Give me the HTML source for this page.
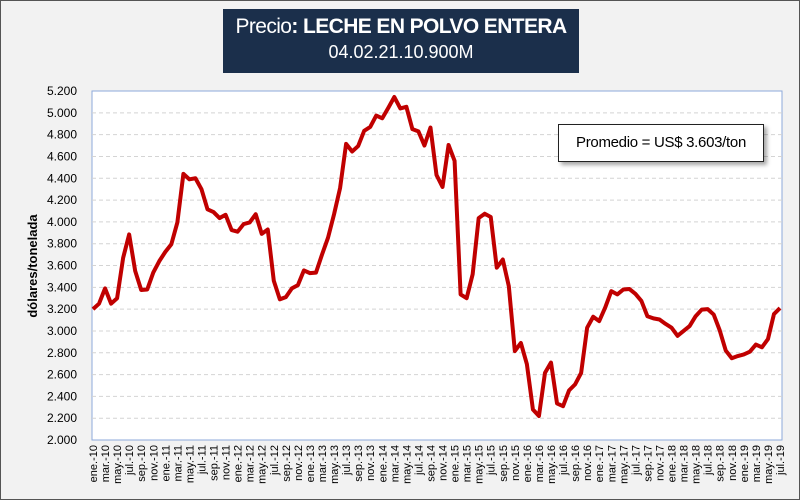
<!DOCTYPE html>
<html><head><meta charset="utf-8"><style>
body{margin:0;background:#fff}
#wrap{position:relative;width:798px;height:498px;background:#f2f2f2;border:1px solid #555;font-family:"Liberation Sans",sans-serif;overflow:hidden}
#title{position:absolute;left:222px;top:8px;width:356px;height:64px;background:#1b2f4b;color:#fff;text-align:center}
#t1{font-size:21px;margin-top:6px;letter-spacing:-0.6px}
#t2{font-size:18px;margin-top:3px}
#avg{position:absolute;left:557px;top:123px;width:204px;height:36px;background:#fff;border:1px solid #222;box-shadow:3px 3px 4px rgba(0,0,0,.35);font-size:15px;line-height:36px;text-align:center;letter-spacing:-0.3px}
svg{position:absolute;left:0;top:0}
</style></head><body>
<div id="wrap">
<div id="title"><div id="t1">Precio<b>: LECHE EN POLVO ENTERA</b></div><div id="t2">04.02.21.10.900M</div></div>
<svg id="chart" width="800" height="500"></svg>
<div id="avg">Promedio = US$ 3.603/ton</div>
</div>
<script>
const months=["ene","feb","mar","abr","may","jun","jul","ago","sep","oct","nov","dic"];
const startYear=10;
const prices=[3200,3250,3390,3250,3300,3670,3885,3550,3375,3380,3535,3640,3725,3795,3995,4440,4390,4400,4300,4115,4090,4035,4065,3925,3910,3980,3995,4070,3890,3930,3460,3290,3310,3390,3420,3555,3530,3535,3700,3855,4070,4310,4715,4645,4695,4835,4870,4975,4950,5045,5145,5040,5055,4850,4830,4700,4865,4430,4320,4705,4560,3335,3300,3520,4035,4075,4045,3580,3655,3410,2815,2890,2695,2280,2220,2615,2710,2335,2310,2455,2510,2615,3030,3130,3090,3215,3365,3335,3380,3385,3340,3275,3135,3115,3105,3065,3030,2955,3000,3045,3135,3195,3200,3150,3005,2820,2750,2770,2785,2810,2875,2850,2925,3155,3210];
const yTicks=[2000,2200,2400,2600,2800,3000,3200,3400,3600,3800,4000,4200,4400,4600,4800,5000,5200];
const NS="http://www.w3.org/2000/svg";
const svg=document.getElementById('chart');
const L=91,R=781,T=90,B=439,ymin=2000,ymax=5200;
const x=i=>L+1+i*(R-L-3)/(prices.length-1);
const y=v=>B-(v-ymin)/(ymax-ymin)*(B-T);
function mk(t,a){const e=document.createElementNS(NS,t);for(const k in a)e.setAttribute(k,a[k]);svg.appendChild(e);return e;}
const bg=mk('rect',{x:L,y:T,width:R-L,height:B-T,fill:'#fff',stroke:'#8eaadb','stroke-width':1});


yTicks.forEach(v=>{
  if(v>ymin&&v<ymax){const g=mk('line',{x1:L,x2:R,y1:y(v),y2:y(v),stroke:'#d4d4d4','stroke-dasharray':'4,3'});
  
  }
  const t=mk('text',{x:76,y:y(v)+4,'text-anchor':'end','font-size':12,fill:'#000'});
  t.textContent=(v/1000).toFixed(3);
  
  
});
const yt=mk('text',{x:0,y:0,transform:'translate(36,265) rotate(-90)','text-anchor':'middle','font-size':13,'font-weight':'bold',fill:'#000'});
yt.textContent='dólares/tonelada';


prices.forEach((v,i)=>{
  if(i%2)return;
  const lab=months[i%12]+'.-'+(startYear+Math.floor(i/12));
  const t=mk('text',{x:0,y:0,transform:`translate(${x(i)+4},444) rotate(-90)`,'text-anchor':'end','font-size':11,fill:'#000'});
  t.textContent=lab;
  
  
});
const line=mk('polyline',{points:prices.map((v,i)=>x(i)+','+y(v)).join(' '),fill:'none',stroke:'#c00000','stroke-width':4,'stroke-linejoin':'round'});


</script>
</body></html>
